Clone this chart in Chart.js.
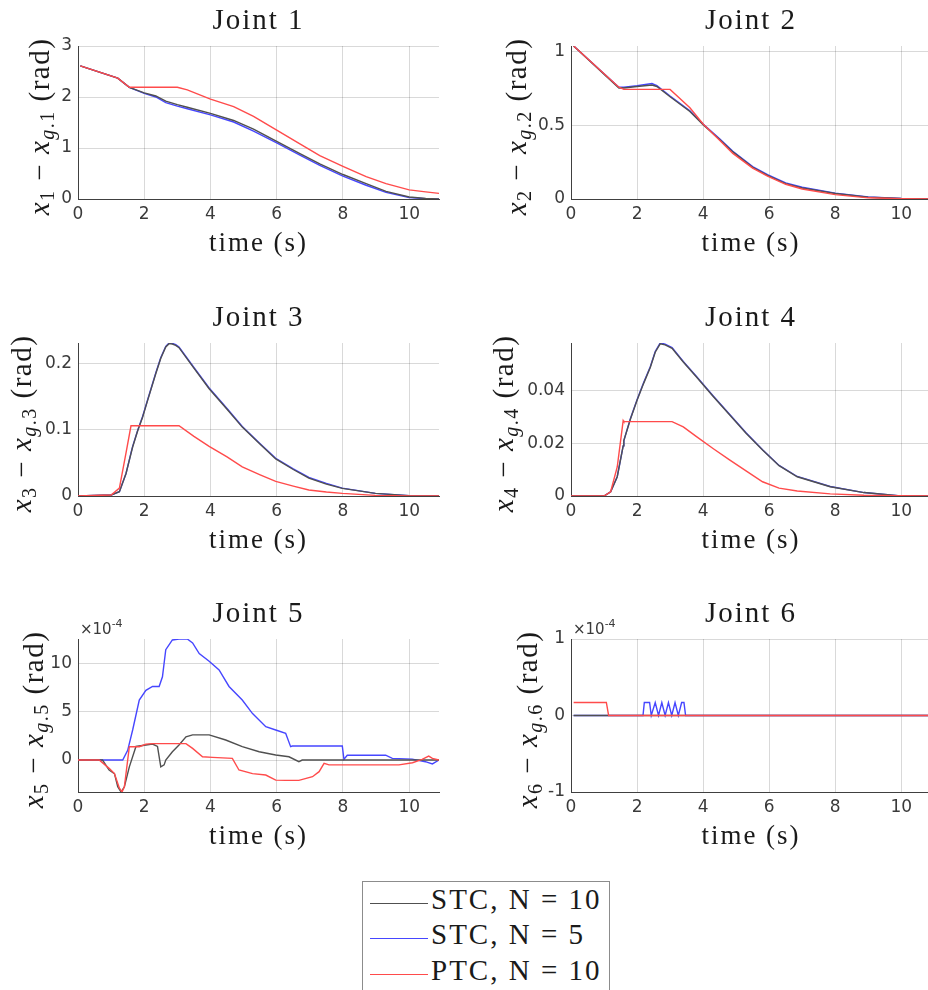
<!DOCTYPE html>
<html>
<head>
<meta charset="utf-8">
<script src="https://cdn.jsdelivr.net/npm/chart.js@4.4.0/dist/chart.umd.min.js"></script>
<style>
html, body { margin: 0; padding: 0; background: #fff; }
body { width: 928px; height: 990px; overflow: hidden; position: relative; }
canvas { position: absolute; }
#legenda { position: absolute; left: 362px; top: 881px; width: 246px; height: 130px; border: 1px solid #8c8c8c; background: #fff;
  font-family: 'Liberation Serif', serif; font-size: 29px; line-height: 29px; color: #1a1a1a; }
.linea { position: absolute; left: 7px; width: 58px; height: 0; border-top: 1.5px solid; }
.testo { position: absolute; left: 68px; letter-spacing: 2px; white-space: nowrap; }
</style>
</head>
<body>
<canvas id="j1" width="464" height="280" style="left:0px;top:0px"></canvas>
<canvas id="j2" width="480" height="280" style="left:464px;top:0px"></canvas>
<canvas id="j3" width="464" height="280" style="left:0px;top:297px"></canvas>
<canvas id="j4" width="480" height="280" style="left:464px;top:297px"></canvas>
<canvas id="j5" width="464" height="280" style="left:0px;top:593px"></canvas>
<canvas id="j6" width="480" height="280" style="left:464px;top:593px"></canvas>
<div id="legenda"></div>

<script>
// ---------------- dati ----------------
var nomiSerie = ['STC, N = 10', 'STC, N = 5', 'PTC, N = 10'];
var colori = ['#505050', '#4646ff', '#ff4b4b'];

var xTicks = [0, 2, 4, 6, 8, 10];

// Joint 1
var t1 = [0.07, 1.2, 1.55, 2.0, 2.35, 2.65, 3.0, 3.3, 4.0, 4.7, 5.3, 6.0, 6.7, 7.3, 8.0, 8.7, 9.3, 10.0, 10.5, 10.9];
var j1Stc10 = [2.61, 2.37, 2.19, 2.08, 2.02, 1.92, 1.85, 1.80, 1.68, 1.54, 1.37, 1.13, 0.89, 0.69, 0.48, 0.30, 0.15, 0.04, 0.01, 0];
var j1Stc5 = [2.61, 2.37, 2.19, 2.07, 2.00, 1.89, 1.82, 1.77, 1.65, 1.51, 1.33, 1.10, 0.86, 0.66, 0.45, 0.27, 0.13, 0.03, 0.005, 0];
var j1Ptc10 = [2.61, 2.37, 2.19, 2.19, 2.19, 2.19, 2.19, 2.14, 1.96, 1.81, 1.62, 1.35, 1.08, 0.85, 0.64, 0.44, 0.30, 0.18, 0.14, 0.11];
var y1Ticks = [0, 1, 2, 3];

// Joint 2
var t2 = [0.08, 1.45, 1.6, 2.0, 2.45, 2.6, 3.0, 3.6, 4.0, 4.5, 4.9, 5.5, 5.95, 6.5, 7.0, 8.0, 9.0, 10.0, 10.9];
var j2Stc10 = [1.04, 0.755, 0.755, 0.765, 0.775, 0.765, 0.695, 0.595, 0.505, 0.405, 0.32, 0.215, 0.16, 0.105, 0.075, 0.037, 0.012, 0.003, 0];
var j2Stc5 = [1.04, 0.76, 0.76, 0.77, 0.785, 0.77, 0.70, 0.60, 0.51, 0.41, 0.325, 0.22, 0.166, 0.11, 0.08, 0.04, 0.014, 0.004, 0];
var j2Ptc10 = [1.04, 0.76, 0.745, 0.745, 0.745, 0.745, 0.745, 0.62, 0.51, 0.40, 0.31, 0.21, 0.155, 0.10, 0.068, 0.03, 0.008, 0.002, 0];
var y2Ticks = [0, 0.5, 1];

// Joint 3
var t3 = [0, 1.0, 1.25, 1.45, 1.6, 1.65, 1.8, 1.95, 2.1, 2.35, 2.5, 2.65, 2.75, 2.85, 2.95, 3.05, 3.5, 3.96, 4.5, 4.96, 5.5, 5.97, 6.5, 6.97, 7.5, 7.98, 8.98, 10.0, 10.9];
var j3Stc10 = [0, 0.0015, 0.0066, 0.034, 0.064, 0.074, 0.098, 0.119, 0.144, 0.185, 0.208, 0.225, 0.230, 0.2295, 0.2275, 0.224, 0.193, 0.162, 0.131, 0.104, 0.078, 0.056, 0.040, 0.027, 0.018, 0.0115, 0.004, 0.0005, 0];
var j3Stc5 = [0, 0.0015, 0.0066, 0.034, 0.065, 0.075, 0.099, 0.120, 0.145, 0.186, 0.209, 0.226, 0.231, 0.2305, 0.2285, 0.225, 0.194, 0.163, 0.132, 0.105, 0.079, 0.057, 0.041, 0.028, 0.019, 0.0118, 0.004, 0.0005, 0];
var j3Ptc10 = [0, 0.0015, 0.012, 0.065, 0.106, 0.106, 0.106, 0.106, 0.106, 0.106, 0.106, 0.106, 0.106, 0.106, 0.106, 0.106, 0.090, 0.075, 0.059, 0.044, 0.032, 0.022, 0.015, 0.009, 0.006, 0.004, 0.001, 0.0002, 0];
var y3Ticks = [0, 0.1, 0.2];

// Joint 4
var t4 = [0, 1.0, 1.2, 1.4, 1.58, 1.6, 1.8, 2.0, 2.2, 2.4, 2.55, 2.7, 2.85, 3.06, 3.4, 3.8, 4.3, 4.8, 5.3, 5.8, 6.3, 6.85, 7.85, 8.87, 9.9, 10.9];
var j4Stc10 = [0, 0, 0.0016, 0.0073, 0.019, 0.021, 0.0292, 0.0363, 0.0427, 0.0487, 0.0545, 0.0577, 0.0573, 0.0560, 0.0508, 0.0451, 0.0378, 0.0308, 0.0238, 0.0174, 0.0115, 0.0073, 0.0035, 0.0013, 0.0001, 0];
var j4Stc5 = [0, 0, 0.0016, 0.0073, 0.019, 0.021, 0.0294, 0.0365, 0.043, 0.049, 0.0548, 0.058, 0.0576, 0.0563, 0.051, 0.0453, 0.038, 0.031, 0.024, 0.0175, 0.0116, 0.0074, 0.0036, 0.0013, 0.0001, 0];
var j4Ptc10 = [0, 0, 0.0016, 0.011, 0.0286, 0.0282, 0.0282, 0.0282, 0.0282, 0.0282, 0.0282, 0.0282, 0.0282, 0.0282, 0.0262, 0.0225, 0.018, 0.0137, 0.0095, 0.0054, 0.003, 0.0019, 0.0008, 0.0003, 0.0001, 0];
var y4Ticks = [0, 0.02, 0.04];

// Joint 5 (valori in 1e-4 rad)
var t5Stc10 = [0, 0.74, 0.94, 1.1, 1.2, 1.3, 1.4, 1.55, 1.75, 2.05, 2.25, 2.4, 2.5, 2.6, 2.65, 2.85, 3.05, 3.26, 3.46, 3.96, 4.46, 4.96, 5.47, 5.97, 6.37, 6.67, 6.77, 10.9];
var j5Stc10 = [0, 0, -1.03, -1.4, -2.76, -3.3, -2.76, -0.7, 1.4, 1.55, 1.65, 1.4, -0.7, -0.5, 0, 0.86, 1.55, 2.4, 2.6, 2.6, 2.07, 1.38, 0.86, 0.52, 0.34, -0.17, 0, 0];
var t5Stc5 = [0, 1.35, 1.5, 1.65, 1.85, 2.05, 2.25, 2.45, 2.55, 2.65, 2.85, 3.05, 3.3, 3.46, 3.66, 3.96, 4.26, 4.56, 4.96, 5.27, 5.67, 5.97, 6.27, 6.42, 6.47, 7.98, 8.03, 8.13, 9.29, 9.49, 10.09, 10.49, 10.7, 10.9];
var j5Stc5 = [0, 0, 1.0, 3.1, 6.2, 7.2, 7.6, 7.6, 8.6, 11.4, 12.4, 12.5, 12.5, 12.1, 11.0, 10.2, 9.3, 7.6, 6.2, 4.8, 3.45, 3.1, 2.76, 1.38, 1.45, 1.45, 0.07, 0.5, 0.5, 0.17, 0.1, -0.17, -0.4, 0];
var t5Ptc10 = [0, 0.64, 0.94, 1.1, 1.25, 1.33, 1.4, 1.55, 1.85, 2.05, 2.25, 3.26, 3.46, 3.76, 4.06, 4.66, 4.86, 5.27, 5.67, 5.97, 6.27, 6.67, 7.08, 7.28, 7.43, 7.58, 9.69, 10.1, 10.39, 10.59, 10.7, 10.9];
var j5Ptc10 = [0, 0, -0.86, -1.4, -2.9, -3.3, -2.76, 1.38, 1.38, 1.65, 1.7, 1.7, 1.2, 0.34, 0.28, 0.17, -1.03, -1.4, -1.55, -2.07, -2.1, -2.1, -1.72, -1.2, -0.34, -0.5, -0.5, -0.28, 0.07, 0.41, 0.17, 0];
var y5Ticks = [0, 5, 10];

// Joint 6 (valori in 1e-4 rad)
var t6Stc10 = [0.08, 10.9];
var j6Stc10 = [0, 0];
var t6Stc5 = [0.08, 2.18, 2.22, 2.38, 2.43, 2.55, 2.65, 2.75, 2.85, 2.95, 3.05, 3.15, 3.25, 3.35, 3.42, 3.47, 10.9];
var j6Stc5 = [0, 0, 0.17, 0.17, 0, 0.17, 0, 0.17, 0, 0.17, 0, 0.17, 0, 0.17, 0.17, 0, 0];
var t6Ptc10 = [0.08, 1.07, 1.14, 10.9];
var j6Ptc10 = [0.17, 0.17, 0, 0];
var y6Ticks = [-1, 0, 1];


function pts(t, y) {
    var out = [];
    for (var i = 0; i < t.length; i++) {
        out.push({ x: t[i], y: y[i] });
    }
    return out;
}

// tutti e sei i pannelli
var giunti = [
    { id: 'j1', n: 1, col: 0, dati: [pts(t1, j1Stc10), pts(t1, j1Stc5), pts(t1, j1Ptc10)], yMin: 0, yMax: 3, yTicks: y1Ticks, labelX: 42 },
    { id: 'j2', n: 2, col: 1, dati: [pts(t2, j2Stc10), pts(t2, j2Stc5), pts(t2, j2Ptc10)], yMin: 0, yMax: 1.04, yTicks: y2Ticks, labelX: 55 },
    { id: 'j3', n: 3, col: 0, dati: [pts(t3, j3Stc10), pts(t3, j3Stc5), pts(t3, j3Ptc10)], yMin: 0, yMax: 0.231, yTicks: y3Ticks, labelX: 24 },
    { id: 'j4', n: 4, col: 1, dati: [pts(t4, j4Stc10), pts(t4, j4Stc5), pts(t4, j4Ptc10)], yMin: 0, yMax: 0.058, yTicks: y4Ticks, labelX: 42 },
    { id: 'j5', n: 5, col: 0, dati: [pts(t5Stc10, j5Stc10), pts(t5Stc5, j5Stc5), pts(t5Ptc10, j5Ptc10)], yMin: -3.3, yMax: 12.5, yTicks: y5Ticks, labelX: 36, esponente: true },
    { id: 'j6', n: 6, col: 1, dati: [pts(t6Stc10, j6Stc10), pts(t6Stc5, j6Stc5), pts(t6Ptc10, j6Ptc10)], yMin: -1, yMax: 1, yTicks: y6Ticks, labelX: 66, esponente: true }
];

//------------ titoli, etichette asse y, x10^-4 ------------
var decorazioni = {
    id: 'decorazioni',
    afterDraw: function (chart) {
        var o = chart.options.plugins.decorazioni;
        var ctx = chart.ctx;
        var a = chart.chartArea;
        var cx = (a.left + a.right) / 2;

        ctx.save();
        ctx.fillStyle = '#1a1a1a';
        ctx.textAlign = 'center';
        ctx.textBaseline = 'middle';
        ctx.letterSpacing = '2px';
        ctx.font = '29px "Liberation Serif"';
        ctx.fillText('Joint ' + o.n, cx, 21);
        ctx.font = '27px "Liberation Serif"';
        ctx.fillText('time (s)', cx, 244);

        // x_n - x_{g.n} (rad), ruotata
        var fs = 29, sub = 20;
        var parti = [
            { t: 'x', f: 'italic ' + fs + 'px "Liberation Serif"', dy: 0 },
            { t: String(o.n), f: sub + 'px "Liberation Serif"', dy: 5 },
            { t: ' \u2212 ', f: fs + 'px "Liberation Serif"', dy: 0 },
            { t: 'x', f: 'italic ' + fs + 'px "Liberation Serif"', dy: 0 },
            { t: 'g', f: 'italic ' + sub + 'px "Liberation Serif"', dy: 5 },
            { t: '.' + o.n, f: sub + 'px "Liberation Serif"', dy: 5 },
            { t: ' (rad)', f: fs + 'px "Liberation Serif"', dy: 0 }
        ];
        ctx.letterSpacing = '1.5px';
        ctx.textAlign = 'left';
        ctx.textBaseline = 'alphabetic';
        var w = 0;
        parti.forEach(function (p) { ctx.font = p.f; w += ctx.measureText(p.t).width; });
        ctx.translate(o.labelX + 7, (a.top + a.bottom) / 2 + 4);
        ctx.rotate(-Math.PI / 2);
        var x = -w / 2;
        parti.forEach(function (p) {
            ctx.font = p.f;
            ctx.fillText(p.t, x, p.dy);
            x += ctx.measureText(p.t).width;
        });
        ctx.restore();

        if (o.esponente) {
            ctx.save();
            ctx.fillStyle = '#3a3a3a';
            ctx.textAlign = 'left';
            ctx.textBaseline = 'middle';
            ctx.font = '15px "DejaVu Sans"';
            ctx.fillText('\u00d710', a.left + 2, a.top - 9);
            var w10 = ctx.measureText('\u00d710').width;
            ctx.font = '11px "DejaVu Sans"';
            ctx.fillText('-4', a.left + 2 + w10, a.top - 15);
            ctx.restore();
        }
    }
};

function createJointChart(g) {
    var ordini = [2, 3, 1];
    var datasets = g.dati.map(function (d, i) {
        return {
            label: nomiSerie[i],
            data: d,
            borderColor: colori[i],
            borderWidth: 1.4,
            pointRadius: 0,
            tension: 0,
            fill: false,
            order: ordini[i]
        };
    });
    var pad = g.col === 0 ? { left: 18, right: 25, top: 46, bottom: 51 } : { left: 47, right: 13, top: 46, bottom: 51 };
    var tickFont = { family: 'DejaVu Sans', size: 17 };

    new Chart(document.getElementById(g.id), {
        type: 'line',
        data: { datasets: datasets },
        options: {
            responsive: false,
            animation: false,
            layout: { padding: pad },
            plugins: {
                legend: { display: false },
                tooltip: { enabled: false },
                decorazioni: { n: g.n, labelX: g.labelX, esponente: !!g.esponente }
            },
            scales: {
                x: {
                    type: 'linear',
                    min: 0,
                    max: 10.9,
                    afterBuildTicks: function (s) { s.ticks = xTicks.map(function (v) { return { value: v }; }); },
                    afterFit: function (s) { s.height = 30; },
                    grid: { color: 'rgba(0,0,0,0.15)', drawTicks: false },
                    border: { color: '#404040', width: 1 },
                    ticks: { font: tickFont, color: '#3a3a3a', padding: 5, maxRotation: 0, callback: function (v) { return String(v); } }
                },
                y: {
                    type: 'linear',
                    min: g.yMin,
                    max: g.yMax,
                    afterBuildTicks: function (s) { s.ticks = g.yTicks.map(function (v) { return { value: v }; }); },
                    afterFit: function (s) { s.width = 60; },
                    grid: { color: 'rgba(0,0,0,0.15)', drawTicks: false },
                    border: { color: '#404040', width: 1 },
                    ticks: { font: tickFont, color: '#3a3a3a', padding: 6, callback: function (v) { return String(+v.toFixed(6)); } }
                }
            }
        },
        plugins: [decorazioni]
    });
}

giunti.forEach(createJointChart);

//------------ legenda ------------
var legenda = document.getElementById('legenda');
var righeY = [21, 56, 92];
nomiSerie.forEach(function (nome, i) {
    var l = document.createElement('div');
    l.className = 'linea';
    l.style.top = righeY[i] + 'px';
    l.style.borderTopColor = colori[i];
    legenda.appendChild(l);
    var t = document.createElement('div');
    t.className = 'testo';
    t.style.top = (righeY[i] - 18) + 'px';
    t.textContent = nome;
    legenda.appendChild(t);
});
</script>
</body>
</html>
